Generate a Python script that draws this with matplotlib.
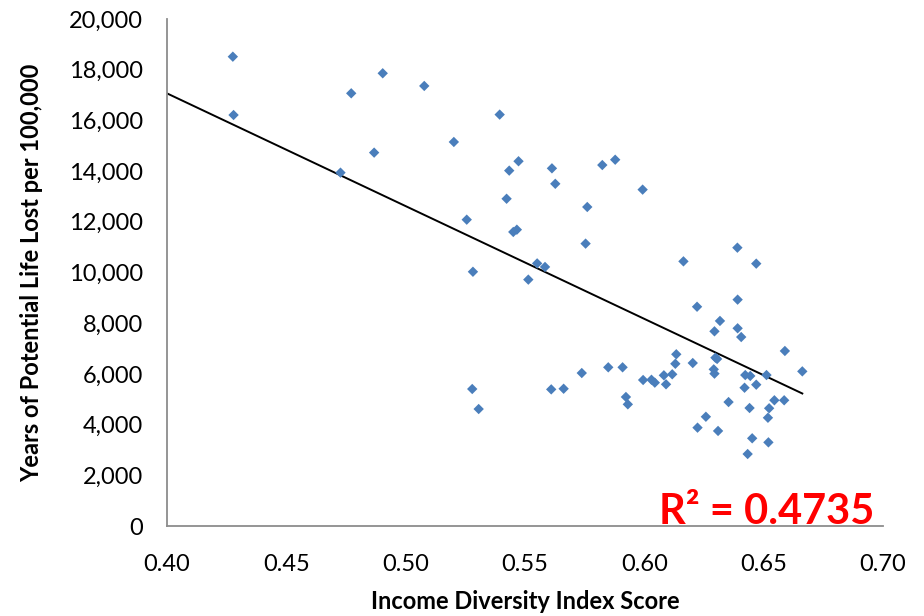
import numpy as np
import matplotlib
matplotlib.use("Agg")
import matplotlib.pyplot as plt
from matplotlib.ticker import FuncFormatter

plt.rcParams['font.family'] = ['Lato', 'DejaVu Sans']

income_diversity = [
    0.4276, 0.4279, 0.4772, 0.4904, 0.5078, 0.4727, 0.4868, 0.5394, 0.5202, 0.5473,
    0.5434, 0.5423, 0.5256, 0.5451, 0.5466, 0.5282, 0.5514, 0.5613, 0.5627, 0.5824,
    0.5878, 0.5993, 0.5761, 0.5754, 0.6164, 0.5551, 0.5584, 0.6221, 0.6134, 0.6130,
    0.6203, 0.5849, 0.5909, 0.5738, 0.6082, 0.6117, 0.5995, 0.6030, 0.6044, 0.6091,
    0.5279, 0.5306, 0.5610, 0.5662, 0.5923, 0.5931, 0.6223, 0.6390, 0.6469, 0.6391,
    0.6317, 0.6294, 0.6391, 0.6406, 0.6589, 0.6662, 0.6298, 0.6305, 0.6291, 0.6294,
    0.6423, 0.6444, 0.6512, 0.6469, 0.6420, 0.6545, 0.6586, 0.6353, 0.6441, 0.6523,
    0.6518, 0.6258, 0.6309, 0.6452, 0.6520, 0.6433,
]
ypll = [
    18515, 16214, 17070, 17860, 17360, 13940, 14730, 16230, 15150, 14390,
    14020, 12910, 12085, 11600, 11690, 10030, 9720, 14110, 13500, 14240,
    14450, 13270, 12585, 11140, 10440, 10360, 10220, 8650, 6775, 6400,
    6430, 6260, 6260, 6035, 5945, 5985, 5760, 5770, 5655, 5590,
    5405, 4615, 5390, 5415, 5090, 4800, 3880, 10980, 10350, 8930,
    8090, 7680, 7800, 7455, 6905, 6100, 6640, 6590, 6180, 6010,
    5955, 5920, 5955, 5575, 5455, 4960, 4960, 4890, 4655, 4645,
    4270, 4310, 3750, 3460, 3300, 2840,
]
# linear trendline as displayed in the chart
trend_slope = -44480
trend_intercept = 34860
x_ticks = [0.40, 0.45, 0.50, 0.55, 0.60, 0.65, 0.70]
y_ticks = list(range(0, 20001, 2000))
r2_label = "R² = 0.4735"

x = np.array(income_diversity)
y = np.array(ypll)

fig = plt.figure(figsize=(9.24, 6.16), dpi=100)
ax = fig.add_axes([0.1807, 0.1461, 0.7749, 0.823])

ax.scatter(x, y, marker='D', s=28, color='#4A7EBB', edgecolors='none', zorder=3)

xl = np.array([0.40, x.max()])
ax.plot(xl, trend_slope * xl + trend_intercept, color='black', lw=1.4, zorder=2)

ax.set_xlim(0.40, 0.70)
ax.set_ylim(0, 20000)
ax.set_xticks(x_ticks)
ax.set_yticks(y_ticks)
ax.xaxis.set_major_formatter(FuncFormatter(lambda v, p: f"{v:.2f}"))
ax.yaxis.set_major_formatter(FuncFormatter(lambda v, p: f"{int(v):,}"))
ax.tick_params(length=0, labelsize=17)
ax.tick_params(axis='y', pad=17)
ax.tick_params(axis='x', pad=20)

for s in ['top', 'right']:
    ax.spines[s].set_visible(False)
for s in ['left', 'bottom']:
    ax.spines[s].set_color('#8C8C8C')
    ax.spines[s].set_linewidth(1.3)

ax.set_xlabel("Income Diversity Index Score", fontsize=17, fontweight='bold')
ax.set_ylabel("Years of Potential Life Lost per 100,000", fontsize=17, fontweight='bold')
ax.xaxis.set_label_coords(0.5, -0.126)
ax.yaxis.set_label_coords(-0.173, 0.5)

ax.text(0.988, 0.004, r2_label, transform=ax.transAxes, ha='right', va='baseline',
        fontsize=30, fontweight='bold', color='#FF0000')

fig.savefig("out.png", dpi=100)
